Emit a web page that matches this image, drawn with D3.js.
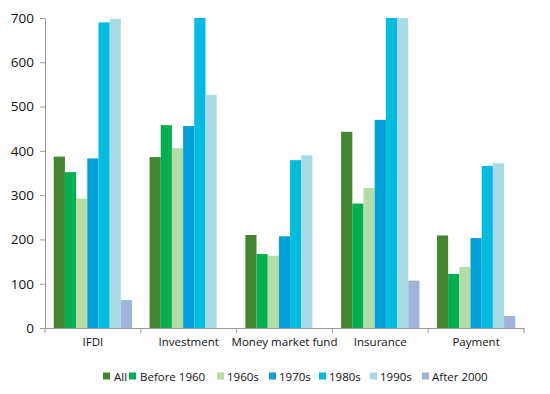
<!DOCTYPE html>
<html>
<head>
<meta charset="utf-8">
<script src="https://cdn.jsdelivr.net/npm/d3@7"></script>
<style>
  body { margin: 0; background: #fff; }
  text { font-family: "Open Sans", "Noto Sans", sans-serif; fill: #111; }
</style>
</head>
<body>
<script>
// categories on the x axis
var categories = ["IFDI", "Investment", "Money market fund", "Insurance", "Payment"];
// series (founding period)
var series = ["All", "Before 1960", "1960s", "1970s", "1980s", "1990s", "After 2000"];
var colors = ["#43862f", "#00b050", "#b5dca5", "#00a0d8", "#00bce0", "#a8dbe6", "#9fb4d8"];

// values per series, one entry per category (null = no bar)
var allVals       = [387, 386, 210, 443, 209];
var before1960    = [352, 458, 167, 281, 122];
var sixties       = [292, 406, 163, 316, 138];
var seventies     = [383, 456, 207, 470, 203];
var eighties      = [690, 700, 379, 700, 366];
var nineties      = [698, 526, 390, 700, 372];
var after2000     = [63, null, null, 107, 27];
var yTicks = [0, 100, 200, 300, 400, 500, 600, 700];

var table = [allVals, before1960, sixties, seventies, eighties, nineties, after2000];

var width = 550, height = 394;
var margin = {left: 45, right: 26, top: 18, bottom: 66};

var svg = d3.select("body").append("svg")
    .attr("width", width)
    .attr("height", height);

var x0 = d3.scaleBand()
    .domain(categories)
    .range([margin.left, width - margin.right])
    .paddingInner(0)
    .paddingOuter(0);

var x1 = d3.scaleBand()
    .domain(series)
    .range([0, x0.bandwidth()])
    .paddingOuter(0.78)
    .paddingInner(0);

var y = d3.scaleLinear()
    .domain([0, 700])
    .range([height - margin.bottom, margin.top]);

// bars
var groups = svg.selectAll(".cat")
    .data(categories)
    .enter()
    .append("g")
    .attr("class", "cat")
    .attr("transform", function(d){ return "translate(" + x0(d) + ",0)"; });

groups.selectAll("rect")
    .data(function(d, i){
      return series.map(function(s, j){ return {s: s, v: table[j][i], c: colors[j]}; })
        .filter(function(o){ return o.v != null; });
    })
    .enter()
    .append("rect")
    .attr("x", function(d){ return x1(d.s); })
    .attr("width", x1.bandwidth())
    .attr("y", function(d){ return y(Math.min(d.v, 700)); })
    .attr("height", function(d){ return y(0) - y(Math.min(d.v, 700)); })
    .attr("fill", function(d){ return d.c; });

// y axis
var yAxis = svg.append("g")
    .attr("transform", "translate(" + margin.left + ",0)")
    .call(d3.axisLeft(y).tickValues(yTicks).tickSize(5).tickPadding(6));
yAxis.select(".domain").attr("stroke", "#9a9a9a");
yAxis.selectAll(".tick line").attr("stroke", "#9a9a9a");
yAxis.selectAll("text").style("font-size", "13.5px");

// x axis
var xAxis = svg.append("g")
    .attr("transform", "translate(0," + y(0) + ")")
    .call(d3.axisBottom(x0).tickSize(0).tickPadding(10));
xAxis.select(".domain").attr("stroke", "#9a9a9a");
xAxis.selectAll("text").style("font-size", "11.5px");
// category separators
var bounds = categories.map(function(c){ return x0(c); }).concat([x0.range()[1]]);
xAxis.selectAll(".sep")
    .data(bounds)
    .enter()
    .append("line")
    .attr("class", "sep")
    .attr("x1", function(d){ return d; })
    .attr("x2", function(d){ return d; })
    .attr("y1", 0)
    .attr("y2", 5)
    .attr("stroke", "#9a9a9a");

// legend
var legendX = [103, 129, 217, 269, 319, 370, 422];
var legend = svg.append("g").attr("class", "legend");
var items = legend.selectAll("g")
    .data(series)
    .enter()
    .append("g")
    .attr("transform", function(d, i){ return "translate(" + legendX[i] + ",377)"; });
items.append("rect")
    .attr("x", 0).attr("y", -4.5)
    .attr("width", 7).attr("height", 7)
    .attr("fill", function(d, i){ return colors[i]; });
items.append("text")
    .attr("x", function(d, i){ return i == 0 || i == 1 ? 11 : 10; })
    .attr("y", 0)
    .attr("dy", "0.35em")
    .style("font-size", "11.5px")
    .text(function(d){ return d; });
</script>
</body>
</html>
